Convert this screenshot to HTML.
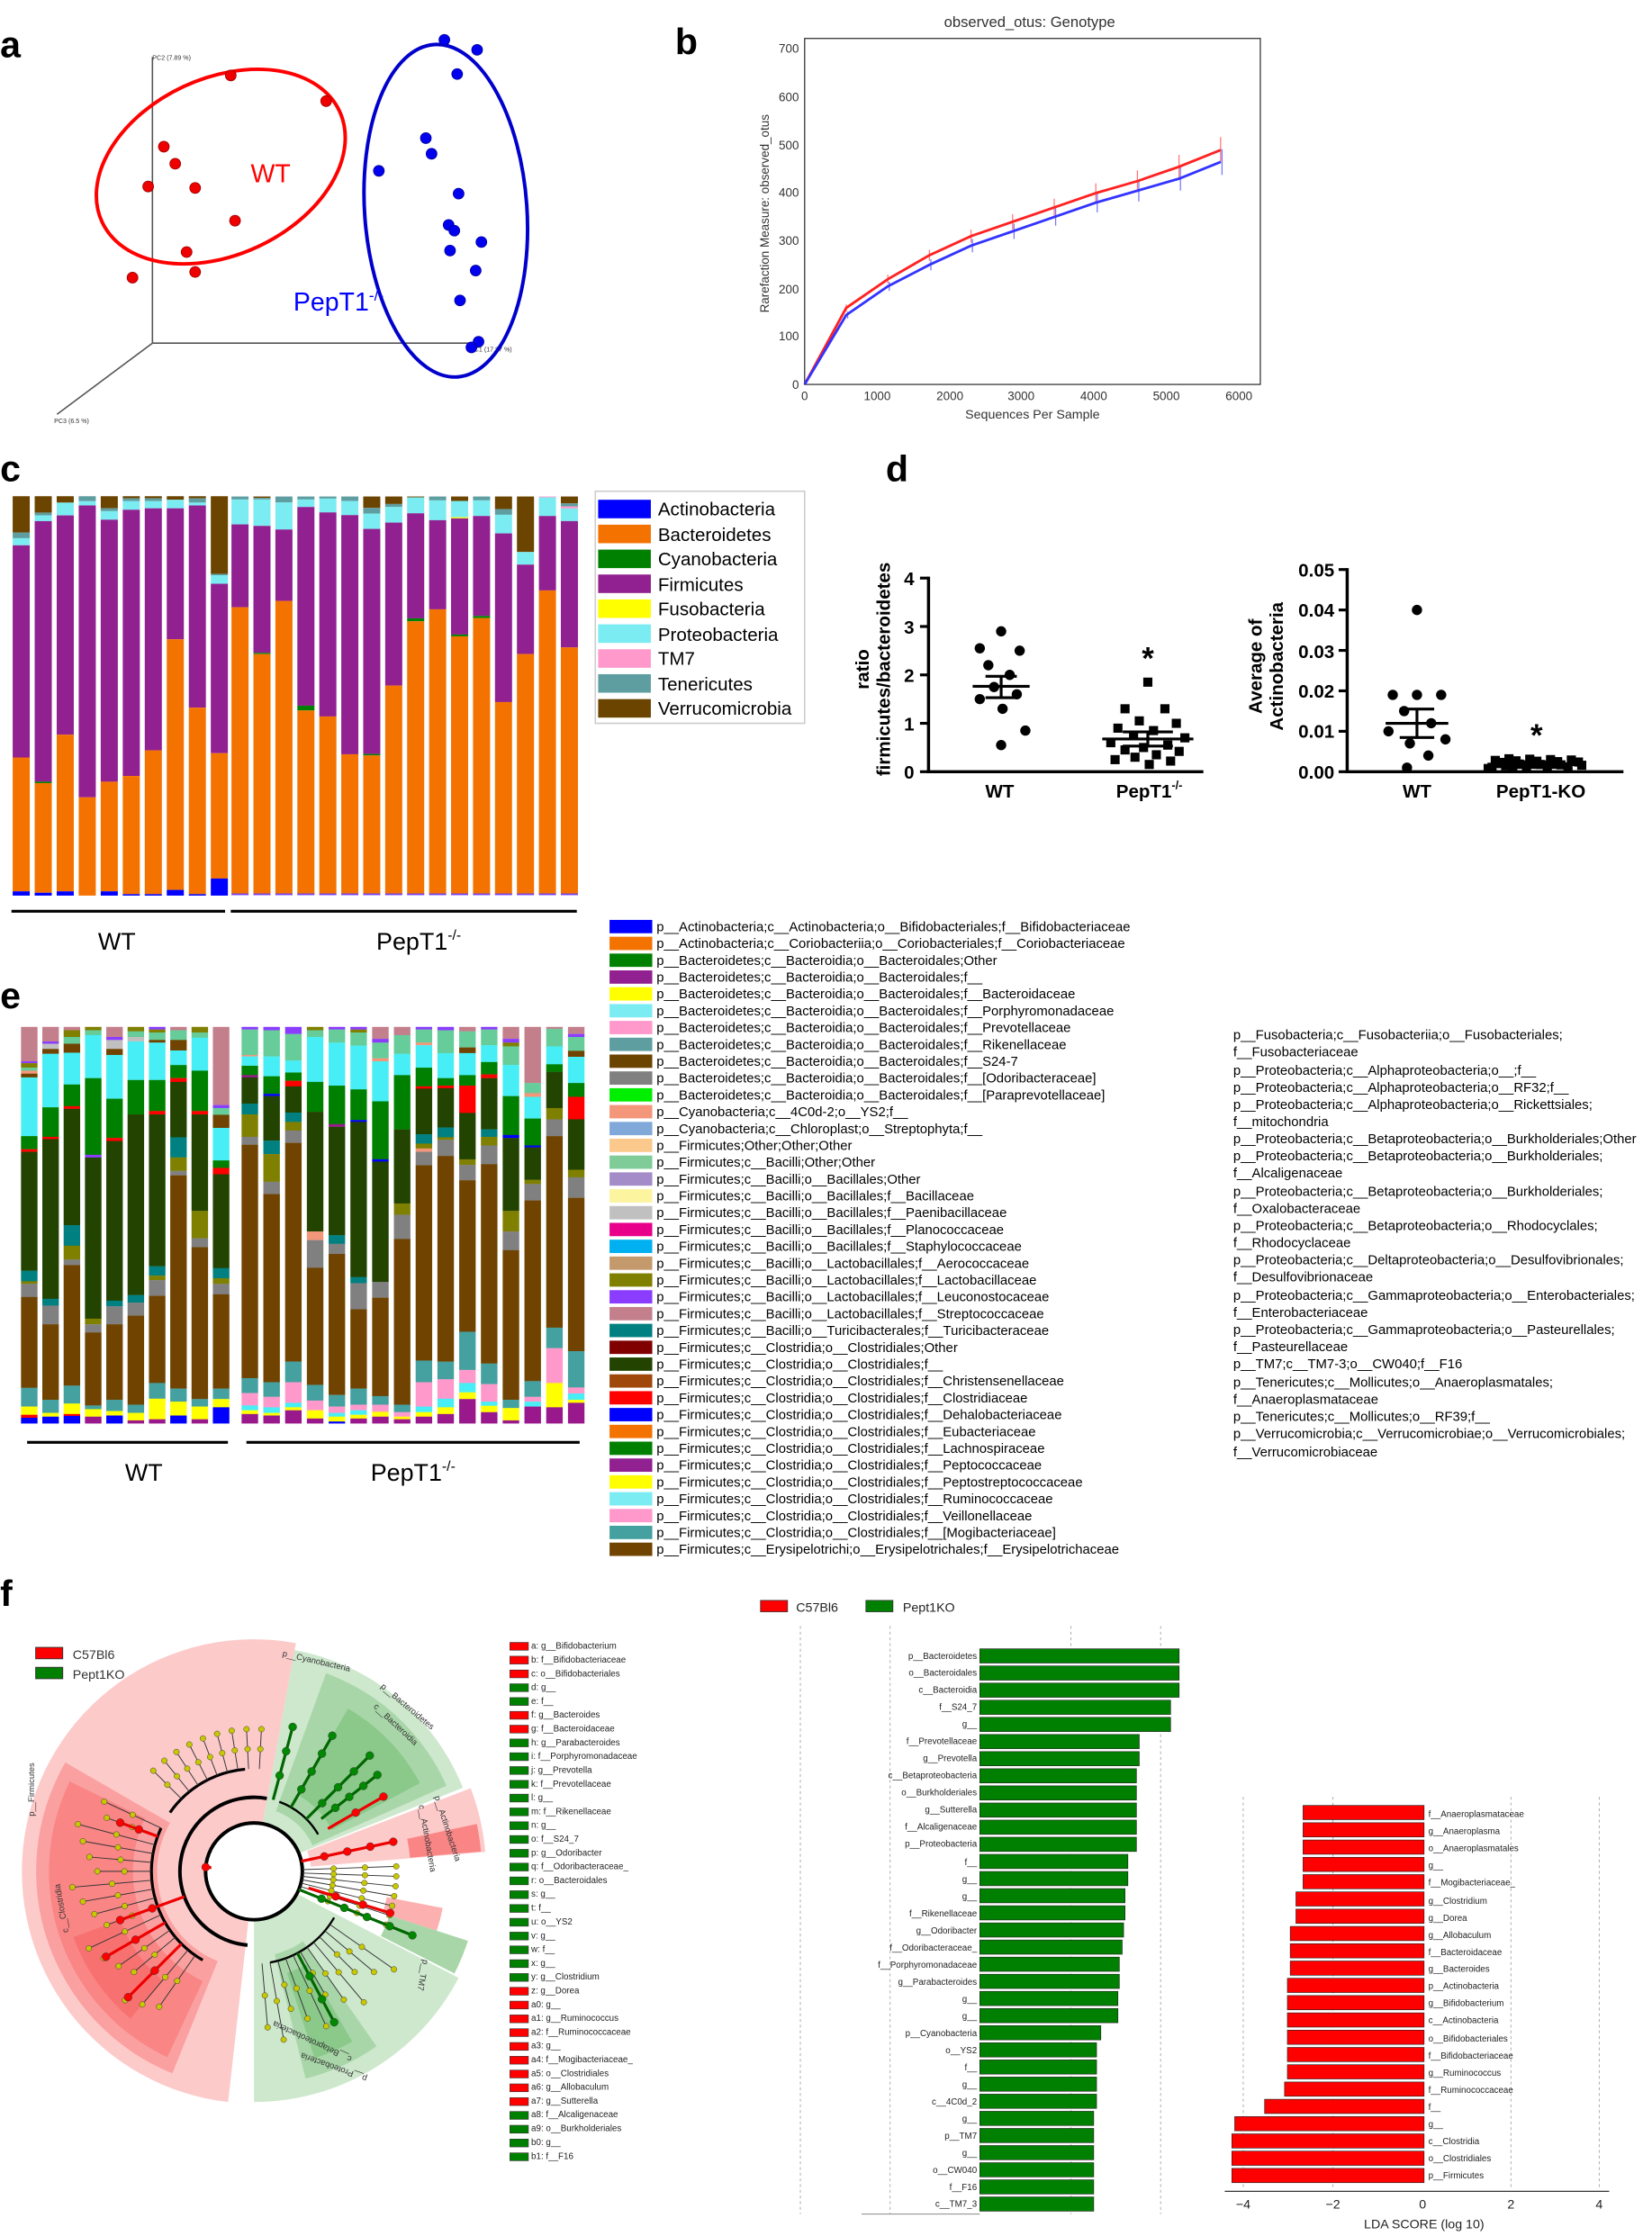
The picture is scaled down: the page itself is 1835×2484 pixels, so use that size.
<!DOCTYPE html>
<html><head><meta charset="utf-8"><style>
html,body{margin:0;padding:0;background:#fff}
svg{display:block}
text{font-family:"Liberation Sans",Arial,sans-serif}
.L{font-size:26px;font-weight:bold}
.t7{font-size:7px;fill:#222}
.e{font-size:9.4px;fill:#000}
</style></head><body>
<svg id="s" xmlns="http://www.w3.org/2000/svg" width="1835" height="2484" viewBox="0 0 1160 1570.4">
<rect width="1160" height="1571" fill="#fff"/>
<text class="L" x="0" y="40">a</text>
<text class="L" x="474" y="38">b</text>
<text class="L" x="0" y="338">c</text>
<text class="L" x="622" y="338">d</text>
<text class="L" x="0" y="708">e</text>
<text class="L" x="0" y="1128">f</text>

<g stroke="#555" stroke-width="1" fill="none">
<line x1="107" y1="40" x2="107" y2="241"/><line x1="107" y1="241" x2="338" y2="241"/><line x1="107" y1="241" x2="40" y2="291"/>
</g>
<text x="107" y="42" font-size="4.5" fill="#333">PC2 (7.89 %)</text>
<text x="330" y="247" font-size="4.5" fill="#333">PC1 (17.97 %)</text>
<text x="38" y="297" font-size="4.5" fill="#333">PC3 (6.5 %)</text>
<ellipse cx="155" cy="117" rx="92" ry="62" transform="rotate(-25 155 117)" fill="none" stroke="#f00" stroke-width="2.5"/>
<ellipse cx="313" cy="148" rx="57" ry="117" transform="rotate(-4 313 148)" fill="none" stroke="#00c" stroke-width="2.5"/>
<text x="176" y="128" font-size="18" fill="#f00">WT</text>
<text x="206" y="218" font-size="18" fill="#00f">PepT1<tspan font-size="11" dy="-7">-/-</tspan></text>
<g id="pa"></g>

<text x="723" y="19" font-size="10.5" fill="#333" text-anchor="middle">observed_otus: Genotype</text>
<rect x="565" y="27" width="320" height="243" fill="none" stroke="#333" stroke-width="0.8"/>
<g font-size="8.5" fill="#333" text-anchor="end">
<text x="561" y="273">0</text><text x="561" y="239">100</text><text x="561" y="206">200</text><text x="561" y="172">300</text><text x="561" y="138">400</text><text x="561" y="105">500</text><text x="561" y="71">600</text><text x="561" y="37">700</text>
</g>
<g font-size="8.5" fill="#333" text-anchor="middle">
<text x="565" y="281">0</text><text x="616" y="281">1000</text><text x="667" y="281">2000</text><text x="717" y="281">3000</text><text x="768" y="281">4000</text><text x="819" y="281">5000</text><text x="870" y="281">6000</text>
</g>
<text x="725" y="294" font-size="9" fill="#333" text-anchor="middle">Sequences Per Sample</text>
<text transform="translate(540 150) rotate(-90)" font-size="8.5" fill="#333" text-anchor="middle">Rarefaction Measure: observed_otus</text>
<g id="pb"></g>

<g id="pc"></g>
<line x1="8" y1="640" x2="158" y2="640" stroke="#000" stroke-width="2"/>
<line x1="162" y1="640" x2="405" y2="640" stroke="#000" stroke-width="2"/>
<text x="82" y="667" font-size="17" text-anchor="middle">WT</text>
<text x="294" y="667" font-size="17" text-anchor="middle">PepT1<tspan font-size="10" dy="-7">-/-</tspan></text>
<rect x="418" y="345" width="147" height="163" fill="none" stroke="#ccc"/>
<g font-size="13">
<rect x="420" y="351" width="37" height="13" fill="#0000ff"/><text x="462" y="362">Actinobacteria</text>
<rect x="420" y="368.5" width="37" height="13" fill="#f47300"/><text x="462" y="380">Bacteroidetes</text>
<rect x="420" y="386" width="37" height="13" fill="#008000"/><text x="462" y="397">Cyanobacteria</text>
<rect x="420" y="403.5" width="37" height="13" fill="#912090"/><text x="462" y="415">Firmicutes</text>
<rect x="420" y="421" width="37" height="13" fill="#ffff00"/><text x="462" y="432">Fusobacteria</text>
<rect x="420" y="438.5" width="37" height="13" fill="#7aecf2"/><text x="462" y="450">Proteobacteria</text>
<rect x="420" y="456" width="37" height="13" fill="#ff99cc"/><text x="462" y="467">TM7</text>
<rect x="420" y="473.5" width="37" height="13" fill="#5f9ea0"/><text x="462" y="485">Tenericutes</text>
<rect x="420" y="491" width="37" height="13" fill="#6b4400"/><text x="462" y="502">Verrucomicrobia</text>
</g>

<g stroke="#000" stroke-width="2.2" fill="none">
<line x1="652" y1="405" x2="652" y2="543"/><line x1="651" y1="542" x2="845" y2="542"/>
<line x1="946" y1="399" x2="946" y2="543"/><line x1="945" y1="542" x2="1140" y2="542"/>
</g>
<g stroke="#000" stroke-width="2">
<line x1="646" y1="406" x2="652" y2="406"/><line x1="646" y1="440" x2="652" y2="440"/><line x1="646" y1="474" x2="652" y2="474"/><line x1="646" y1="508" x2="652" y2="508"/><line x1="646" y1="542" x2="652" y2="542"/>
<line x1="940" y1="400" x2="946" y2="400"/><line x1="940" y1="428.4" x2="946" y2="428.4"/><line x1="940" y1="456.8" x2="946" y2="456.8"/><line x1="940" y1="485.2" x2="946" y2="485.2"/><line x1="940" y1="513.6" x2="946" y2="513.6"/><line x1="940" y1="542" x2="946" y2="542"/>
</g>
<g font-size="13" font-weight="bold" text-anchor="end">
<text x="642" y="411">4</text><text x="642" y="445">3</text><text x="642" y="479">2</text><text x="642" y="513">1</text><text x="642" y="547">0</text>
<text x="937" y="405">0.05</text><text x="937" y="433">0.04</text><text x="937" y="462">0.03</text><text x="937" y="490">0.02</text><text x="937" y="518">0.01</text><text x="937" y="547">0.00</text>
</g>
<g font-size="13" font-weight="bold" text-anchor="middle">
<text transform="translate(610 470) rotate(-90)">ratio</text>
<text transform="translate(625 470) rotate(-90)">firmicutes/bacteroidetes</text>
<text transform="translate(886 468) rotate(-90)">Average of</text>
<text transform="translate(901 468) rotate(-90)">Actinobacteria</text>
<text x="702" y="560">WT</text><text x="807" y="560">PepT1<tspan font-size="8" dy="-6">-/-</tspan></text>
<text x="995" y="560">WT</text><text x="1082" y="560">PepT1-KO</text>
</g>
<text x="806" y="470" font-size="22" font-weight="bold" text-anchor="middle">*</text>
<text x="1079" y="524" font-size="22" font-weight="bold" text-anchor="middle">*</text>
<g id="pd"></g>

<g id="pe"></g>
<line x1="19" y1="1013" x2="160" y2="1013" stroke="#000" stroke-width="2"/>
<line x1="173" y1="1013" x2="407" y2="1013" stroke="#000" stroke-width="2"/>
<text x="101" y="1040" font-size="17" text-anchor="middle">WT</text>
<text x="290" y="1040" font-size="17" text-anchor="middle">PepT1<tspan font-size="10" dy="-7">-/-</tspan></text>
<g transform="translate(0 651) scale(1 0.985) translate(0 -651)">
<g id="el"></g>
<g class="e">
<text x="461" y="654">p__Actinobacteria;c__Actinobacteria;o__Bifidobacteriales;f__Bifidobacteriaceae</text>
<text x="461" y="666">p__Actinobacteria;c__Coriobacteriia;o__Coriobacteriales;f__Coriobacteriaceae</text>
<text x="461" y="678">p__Bacteroidetes;c__Bacteroidia;o__Bacteroidales;Other</text>
<text x="461" y="690">p__Bacteroidetes;c__Bacteroidia;o__Bacteroidales;f__</text>
<text x="461" y="702">p__Bacteroidetes;c__Bacteroidia;o__Bacteroidales;f__Bacteroidaceae</text>
<text x="461" y="714">p__Bacteroidetes;c__Bacteroidia;o__Bacteroidales;f__Porphyromonadaceae</text>
<text x="461" y="726">p__Bacteroidetes;c__Bacteroidia;o__Bacteroidales;f__Prevotellaceae</text>
<text x="461" y="738">p__Bacteroidetes;c__Bacteroidia;o__Bacteroidales;f__Rikenellaceae</text>
<text x="461" y="750">p__Bacteroidetes;c__Bacteroidia;o__Bacteroidales;f__S24-7</text>
<text x="461" y="762">p__Bacteroidetes;c__Bacteroidia;o__Bacteroidales;f__[Odoribacteraceae]</text>
<text x="461" y="774">p__Bacteroidetes;c__Bacteroidia;o__Bacteroidales;f__[Paraprevotellaceae]</text>
<text x="461" y="786">p__Cyanobacteria;c__4C0d-2;o__YS2;f__</text>
<text x="461" y="798">p__Cyanobacteria;c__Chloroplast;o__Streptophyta;f__</text>
<text x="461" y="810">p__Firmicutes;Other;Other;Other</text>
<text x="461" y="822">p__Firmicutes;c__Bacilli;Other;Other</text>
<text x="461" y="834">p__Firmicutes;c__Bacilli;o__Bacillales;Other</text>
<text x="461" y="846">p__Firmicutes;c__Bacilli;o__Bacillales;f__Bacillaceae</text>
<text x="461" y="858">p__Firmicutes;c__Bacilli;o__Bacillales;f__Paenibacillaceae</text>
<text x="461" y="870">p__Firmicutes;c__Bacilli;o__Bacillales;f__Planococcaceae</text>
<text x="461" y="882">p__Firmicutes;c__Bacilli;o__Bacillales;f__Staphylococcaceae</text>
<text x="461" y="894">p__Firmicutes;c__Bacilli;o__Lactobacillales;f__Aerococcaceae</text>
<text x="461" y="906">p__Firmicutes;c__Bacilli;o__Lactobacillales;f__Lactobacillaceae</text>
<text x="461" y="918">p__Firmicutes;c__Bacilli;o__Lactobacillales;f__Leuconostocaceae</text>
<text x="461" y="930">p__Firmicutes;c__Bacilli;o__Lactobacillales;f__Streptococcaceae</text>
<text x="461" y="942">p__Firmicutes;c__Bacilli;o__Turicibacterales;f__Turicibacteraceae</text>
<text x="461" y="954">p__Firmicutes;c__Clostridia;o__Clostridiales;Other</text>
<text x="461" y="966">p__Firmicutes;c__Clostridia;o__Clostridiales;f__</text>
<text x="461" y="978">p__Firmicutes;c__Clostridia;o__Clostridiales;f__Christensenellaceae</text>
<text x="461" y="990">p__Firmicutes;c__Clostridia;o__Clostridiales;f__Clostridiaceae</text>
<text x="461" y="1002">p__Firmicutes;c__Clostridia;o__Clostridiales;f__Dehalobacteriaceae</text>
<text x="461" y="1014">p__Firmicutes;c__Clostridia;o__Clostridiales;f__Eubacteriaceae</text>
<text x="461" y="1026">p__Firmicutes;c__Clostridia;o__Clostridiales;f__Lachnospiraceae</text>
<text x="461" y="1038">p__Firmicutes;c__Clostridia;o__Clostridiales;f__Peptococcaceae</text>
<text x="461" y="1050">p__Firmicutes;c__Clostridia;o__Clostridiales;f__Peptostreptococcaceae</text>
<text x="461" y="1062">p__Firmicutes;c__Clostridia;o__Clostridiales;f__Ruminococcaceae</text>
<text x="461" y="1074">p__Firmicutes;c__Clostridia;o__Clostridiales;f__Veillonellaceae</text>
<text x="461" y="1086">p__Firmicutes;c__Clostridia;o__Clostridiales;f__[Mogibacteriaceae]</text>
<text x="461" y="1098">p__Firmicutes;c__Erysipelotrichi;o__Erysipelotrichales;f__Erysipelotrichaceae</text>
</g>
</g>
<g class="e">
<text x="866" y="730">p__Fusobacteria;c__Fusobacteriia;o__Fusobacteriales;</text>
<text x="866" y="742">f__Fusobacteriaceae</text>
<text x="866" y="755">p__Proteobacteria;c__Alphaproteobacteria;o__;f__</text>
<text x="866" y="767">p__Proteobacteria;c__Alphaproteobacteria;o__RF32;f__</text>
<text x="866" y="779">p__Proteobacteria;c__Alphaproteobacteria;o__Rickettsiales;</text>
<text x="866" y="791">f__mitochondria</text>
<text x="866" y="803">p__Proteobacteria;c__Betaproteobacteria;o__Burkholderiales;Other</text>
<text x="866" y="815">p__Proteobacteria;c__Betaproteobacteria;o__Burkholderiales;</text>
<text x="866" y="827">f__Alcaligenaceae</text>
<text x="866" y="840">p__Proteobacteria;c__Betaproteobacteria;o__Burkholderiales;</text>
<text x="866" y="852">f__Oxalobacteraceae</text>
<text x="866" y="864">p__Proteobacteria;c__Betaproteobacteria;o__Rhodocyclales;</text>
<text x="866" y="876">f__Rhodocyclaceae</text>
<text x="866" y="888">p__Proteobacteria;c__Deltaproteobacteria;o__Desulfovibrionales;</text>
<text x="866" y="900">f__Desulfovibrionaceae</text>
<text x="866" y="913">p__Proteobacteria;c__Gammaproteobacteria;o__Enterobacteriales;</text>
<text x="866" y="925">f__Enterobacteriaceae</text>
<text x="866" y="937">p__Proteobacteria;c__Gammaproteobacteria;o__Pasteurellales;</text>
<text x="866" y="949">f__Pasteurellaceae</text>
<text x="866" y="961">p__TM7;c__TM7-3;o__CW040;f__F16</text>
<text x="866" y="974">p__Tenericutes;c__Mollicutes;o__Anaeroplasmatales;</text>
<text x="866" y="986">f__Anaeroplasmataceae</text>
<text x="866" y="998">p__Tenericutes;c__Mollicutes;o__RF39;f__</text>
<text x="866" y="1010">p__Verrucomicrobia;c__Verrucomicrobiae;o__Verrucomicrobiales;</text>
<text x="866" y="1023">f__Verrucomicrobiaceae</text>
</g>

<g id="clad"></g>
<rect x="25" y="1157" width="19" height="8" fill="#f00" stroke="#333" stroke-width="0.6"/><text x="51" y="1165" font-size="9" fill="#333">C57Bl6</text>
<rect x="25" y="1171" width="19" height="8" fill="#008000" stroke="#333" stroke-width="0.6"/><text x="51" y="1179" font-size="9" fill="#333">Pept1KO</text>
<g font-size="6" fill="#333">
<text transform="translate(24 1238) rotate(-90)" text-anchor="end">p__Firmicutes</text>
<text transform="translate(45 1340) rotate(-100)" text-anchor="middle">c__Clostridia</text>
<text transform="translate(198 1163) rotate(13)">p__Cyanobacteria</text>
<text transform="translate(267 1185) rotate(40)">p__Bacteroidetes</text>
<text transform="translate(262 1199) rotate(43)">c__Bacteroidia</text>
<text transform="translate(305 1262) rotate(72)">p__Actinobacteria</text>
<text transform="translate(294 1268) rotate(80)">c__Actinobacteria</text>
<text transform="translate(235 1450) rotate(-160)" text-anchor="middle">p__Proteobacteria</text>
<text transform="translate(220 1432) rotate(-155)" text-anchor="middle">c__Betaproteobacteria</text>
<text transform="translate(297 1376) rotate(100)">p__TM7</text>
</g>
<g id="flist"></g>
<g font-size="6.2" fill="#222">
<text x="373" y="1158">a: g__Bifidobacterium</text><text x="373" y="1167.7">b: f__Bifidobacteriaceae</text><text x="373" y="1177.4">c: o__Bifidobacteriales</text><text x="373" y="1187">d: g__</text><text x="373" y="1196.7">e: f__</text><text x="373" y="1206.4">f: g__Bacteroides</text><text x="373" y="1216.1">g: f__Bacteroidaceae</text><text x="373" y="1225.8">h: g__Parabacteroides</text><text x="373" y="1235.4">i: f__Porphyromonadaceae</text><text x="373" y="1245.1">j: g__Prevotella</text><text x="373" y="1254.8">k: f__Prevotellaceae</text><text x="373" y="1264.5">l: g__</text><text x="373" y="1274.2">m: f__Rikenellaceae</text><text x="373" y="1283.8">n: g__</text><text x="373" y="1293.5">o: f__S24_7</text><text x="373" y="1303.2">p: g__Odoribacter</text><text x="373" y="1312.9">q: f__Odoribacteraceae_</text><text x="373" y="1322.6">r: o__Bacteroidales</text><text x="373" y="1332.2">s: g__</text><text x="373" y="1341.9">t: f__</text><text x="373" y="1351.6">u: o__YS2</text><text x="373" y="1361.3">v: g__</text><text x="373" y="1371">w: f__</text><text x="373" y="1380.6">x: g__</text><text x="373" y="1390.3">y: g__Clostridium</text><text x="373" y="1400">z: g__Dorea</text><text x="373" y="1409.7">a0: g__</text><text x="373" y="1419.4">a1: g__Ruminococcus</text><text x="373" y="1429">a2: f__Ruminococcaceae</text><text x="373" y="1438.7">a3: g__</text><text x="373" y="1448.4">a4: f__Mogibacteriaceae_</text><text x="373" y="1458.1">a5: o__Clostridiales</text><text x="373" y="1467.8">a6: g__Allobaculum</text><text x="373" y="1477.4">a7: g__Sutterella</text><text x="373" y="1487.1">a8: f__Alcaligenaceae</text><text x="373" y="1496.8">a9: o__Burkholderiales</text><text x="373" y="1506.5">b0: g__</text><text x="373" y="1516.2">b1: f__F16</text>
</g>

<rect x="534" y="1124" width="19" height="8" fill="#f00" stroke="#333" stroke-width="0.5"/><text x="559" y="1132" font-size="9" fill="#222">C57Bl6</text>
<rect x="608" y="1124" width="19" height="8" fill="#008000" stroke="#333" stroke-width="0.5"/><text x="634" y="1132" font-size="9" fill="#222">Pept1KO</text>
<g stroke="#aaa" stroke-width="0.6" stroke-dasharray="2,2">
<line x1="562" y1="1142" x2="562" y2="1555"/><line x1="625" y1="1142" x2="625" y2="1555"/><line x1="752" y1="1142" x2="752" y2="1555"/><line x1="815" y1="1142" x2="815" y2="1555"/>
<line x1="873" y1="1262" x2="873" y2="1538"/><line x1="936" y1="1262" x2="936" y2="1538"/><line x1="1061" y1="1262" x2="1061" y2="1538"/><line x1="1123" y1="1262" x2="1123" y2="1538"/>
</g>
<line x1="605" y1="1555" x2="688" y2="1555" stroke="#888" stroke-width="0.6"/>
<line x1="860" y1="1539" x2="1130" y2="1539" stroke="#333" stroke-width="0.8"/>
<g id="lda"></g>
<g font-size="6.2" fill="#222" text-anchor="end">
<text x="686" y="1165">p__Bacteroidetes</text><text x="686" y="1177">o__Bacteroidales</text><text x="686" y="1189">c__Bacteroidia</text><text x="686" y="1201">f__S24_7</text><text x="686" y="1213">g__</text><text x="686" y="1225">f__Prevotellaceae</text><text x="686" y="1237">g__Prevotella</text><text x="686" y="1249">c__Betaproteobacteria</text><text x="686" y="1261">o__Burkholderiales</text><text x="686" y="1273">g__Sutterella</text><text x="686" y="1285">f__Alcaligenaceae</text><text x="686" y="1297">p__Proteobacteria</text><text x="686" y="1310">f__</text><text x="686" y="1322">g__</text><text x="686" y="1334">g__</text><text x="686" y="1346">f__Rikenellaceae</text><text x="686" y="1358">g__Odoribacter</text><text x="686" y="1370">f__Odoribacteraceae_</text><text x="686" y="1382">f__Porphyromonadaceae</text><text x="686" y="1394">g__Parabacteroides</text><text x="686" y="1406">g__</text><text x="686" y="1418">g__</text><text x="686" y="1430">p__Cyanobacteria</text><text x="686" y="1442">o__YS2</text><text x="686" y="1454">f__</text><text x="686" y="1466">g__</text><text x="686" y="1478">c__4C0d_2</text><text x="686" y="1490">g__</text><text x="686" y="1502">p__TM7</text><text x="686" y="1514">g__</text><text x="686" y="1526">o__CW040</text><text x="686" y="1538">f__F16</text><text x="686" y="1550">c__TM7_3</text>
</g>
<g font-size="6.2" fill="#222">
<text x="1003" y="1276">f__Anaeroplasmataceae</text><text x="1003" y="1288">g__Anaeroplasma</text><text x="1003" y="1300">o__Anaeroplasmatales</text><text x="1003" y="1312">g__</text><text x="1003" y="1324">f__Mogibacteriaceae_</text><text x="1003" y="1337">g__Clostridium</text><text x="1003" y="1349">g__Dorea</text><text x="1003" y="1361">g__Allobaculum</text><text x="1003" y="1373">f__Bacteroidaceae</text><text x="1003" y="1385">g__Bacteroides</text><text x="1003" y="1397">p__Actinobacteria</text><text x="1003" y="1409">g__Bifidobacterium</text><text x="1003" y="1421">c__Actinobacteria</text><text x="1003" y="1434">o__Bifidobacteriales</text><text x="1003" y="1446">f__Bifidobacteriaceae</text><text x="1003" y="1458">g__Ruminococcus</text><text x="1003" y="1470">f__Ruminococcaceae</text><text x="1003" y="1482">f__</text><text x="1003" y="1494">g__</text><text x="1003" y="1506">c__Clostridia</text><text x="1003" y="1518">o__Clostridiales</text><text x="1003" y="1530">p__Firmicutes</text>
</g>
<g font-size="9" fill="#222" text-anchor="middle">
<text x="873" y="1551">−4</text><text x="936" y="1551">−2</text><text x="999" y="1551">0</text><text x="1061" y="1551">2</text><text x="1123" y="1551">4</text>
<text x="1000" y="1565">LDA SCORE (log 10)</text>
</g>
</svg>
<script>
var NS="http://www.w3.org/2000/svg";
function el(p,n,a){var e=document.createElementNS(NS,n);for(var k in a)e.setAttribute(k,a[k]);document.getElementById(p).appendChild(e);return e;}
[[162,53],[229,71],[115,103],[123,115],[104,131],[137,132],[165,155],[131,177],[137,191],[93,195]].forEach(function(p){el("pa","circle",{cx:p[0],cy:p[1],r:3.8,fill:"#e00",stroke:"#900","stroke-width":0.5});});
[[312,28],[335,35],[321,52],[299,97],[303,108],[266,120],[322,136],[315,158],[319,162],[338,170],[316,176],[334,190],[323,211],[336,240],[331,244]].forEach(function(p){el("pa","circle",{cx:p[0],cy:p[1],r:3.8,fill:"#00e",stroke:"#009","stroke-width":0.5});});
var xs=[0,575,1150,1725,2300,2875,3450,4025,4600,5175,5750];
var R=[0,160,220,270,310,340,370,400,425,455,490],B=[0,145,205,250,290,320,350,380,405,430,465];
function pts(v){return xs.map(function(x,i){return (565+x*0.0508)+","+(270-v[i]*0.336);}).join(" ");}
xs.forEach(function(x,i){if(!i)return;var X=565+x*0.0508;var e=5+i*2.2;
 el("pb","line",{x1:X,x2:X,y1:270-(R[i]+e)*0.336,y2:270-(R[i]-e)*0.336,stroke:"#f77","stroke-width":0.8});
 el("pb","line",{x1:X+1,x2:X+1,y1:270-(B[i]+e)*0.336,y2:270-(B[i]-e)*0.336,stroke:"#77f","stroke-width":0.8});});
el("pb","polyline",{points:pts(R),fill:"none",stroke:"#f22","stroke-width":1.8});
el("pb","polyline",{points:pts(B),fill:"none",stroke:"#33f","stroke-width":1.8});
var C={bl:"#0000ff",or:"#f47300",gr:"#008000",pu:"#912090",ye:"#ffff00",cy:"#7aecf2",pk:"#ff99cc",te:"#5f9ea0",br:"#6b4400"};
var WT=[[["br",374],["te",378],["cy",383],["pu",532],["or",626],["bl",629]],
[["br",360],["te",362],["cy",366],["pu",549],["gr",550],["or",627],["bl",629]],
[["br",353],["cy",362],["pu",516],["or",626],["bl",629]],
[["te",352],["cy",355],["pu",560],["or",629]],
[["br",357],["te",359],["cy",365],["pu",549],["or",626],["bl",629]],
[["br",350],["te",352],["cy",358],["pu",545],["or",628],["bl",629]],
[["br",350],["te",352],["cy",357],["pu",527],["or",628],["bl",629]],
[["br",351],["cy",357],["pu",449],["or",625],["bl",629]],
[["br",350],["te",353],["cy",355],["pu",497],["or",628],["bl",629]],
[["br",403],["te",404],["cy",410],["pu",529],["or",617],["bl",629]]];
WT.forEach(function(b,i){var x=8.85+15.46*i,y=348.5;b.forEach(function(s){el("pc","rect",{x:x,y:y,width:12,height:s[1]-y,fill:C[s[0]]});y=s[1];});});
var PT=[[["te",45],["cy",128],["pu",404],["or",1362]],
[["br",40],["te",45],["cy",133],["pu",556],["gr",560],["or",1362]],
[["te",55],["cy",145],["pu",383],["or",1362]],
[["te",45],["cy",70],["pu",732],["gr",748],["or",1362]],
[["te",42],["cy",88],["pu",768],["or",1362]],
[["te",50],["cy",97],["pu",894],["or",1362]],
[["br",73],["te",92],["cy",143],["pu",893],["gr",898],["or",1362]],
[["br",60],["te",70],["cy",122],["pu",665],["or",1362]],
[["br",38],["cy",91],["pu",441],["gr",451],["or",1362]],
[["te",48],["cy",114],["pu",411],["or",1362]],
[["br",50],["cy",104],["ye",108],["pu",495],["gr",501],["or",1362]],
[["te",48],["cy",100],["pu",433],["gr",440],["or",1362]],
[["br",77],["te",96],["cy",158],["pu",720],["or",1362]],
[["br",220],["cy",262],["pu",560],["or",1362]],
[["pk",38],["cy",100],["pu",348],["or",1362]],
[["br",58],["te",68],["pk",75],["cy",117],["pu",538],["or",1362]]];
function cy4(p){return 348.7+(p-35)/1327*279.7;}
PT.forEach(function(b,i){var x=162.5+15.42*i,y=348.7;b.forEach(function(s){var y2=cy4(s[1]);el("pc","rect",{x:x,y:y,width:12,height:y2-y,fill:C[s[0]]});y=y2;});el("pc","rect",{x:x,y:627.5,width:12,height:1.2,fill:"#7744ee"});});
function dot(x,y,sq){if(sq)el("pd","rect",{x:x-3.2,y:y-3.2,width:6.4,height:6.4,fill:"#000"});else el("pd","circle",{cx:x,cy:y,r:3.6,fill:"#000"});}
var wr=[[703,2.9],[688,2.55],[716,2.5],[694,2.2],[709,2.0],[698,1.75],[714,1.6],[688,1.5],[704,1.3],[720,0.85],[703,0.55]];
wr.forEach(function(p){dot(p[0],542-p[1]*34,false);});
var pr=[[806,1.85],[790,1.3],[818,1.3],[800,1.05],[826,1.0],[785,0.9],[810,0.85],[796,0.75],[832,0.7],[780,0.6],[820,0.55],[803,0.5],[790,0.45],[828,0.42],[812,0.35],[797,0.3],[783,0.25],[822,0.22],[807,0.15]];
pr.forEach(function(p){dot(p[0],542-p[1]*34,true);});
function ebar(x,m,lo,hi,w){el("pd","line",{x1:x-w,x2:x+w,y1:m,y2:m,stroke:"#000","stroke-width":2});[lo,hi].forEach(function(v){el("pd","line",{x1:x-w*0.55,x2:x+w*0.55,y1:v,y2:v,stroke:"#000","stroke-width":2});});el("pd","line",{x1:x,x2:x,y1:lo,y2:hi,stroke:"#000","stroke-width":2});}
ebar(703,482,475,490,20);ebar(806,519,514,524,32);
var wa=[[995,0.040],[978,0.019],[995,0.019],[1012,0.019],[986,0.015],[1005,0.012],[975,0.010],[1015,0.008],[990,0.007],[1003,0.004],[988,0.001]];
wa.forEach(function(p){dot(p[0],542-p[1]*2840,false);});
for(var i=0;i<22;i++){var x=1045+(i*7.3)%68,v=0.0008+((i*37)%25)/10000;dot(x,542-v*2840,true);}
ebar(995,508,498,518,22);ebar(1080,537,535,539,32);
var E={ma:"#c47f8c",vi:"#8b3dff",ol:"#808000",lg:"#66cc99",sa:"#f4967a",br:"#704400",cy:"#48eef5",gr:"#008000",rd:"#ff0000",dg:"#224400",te:"#008080",gy:"#808080",tl:"#45a0a0",ye:"#ffff00",bl:"#0000ff",pu:"#99198c",pk:"#ff99cc",lgy:"#c0c0c0"};
var EW=[
"ma395 vi400 ol412 lg420 sa428 br438 cy595 gr630 rd637 dg955 te983 ol990 gy1025 br1268 tl1318 ye1340 rd1348 bl1363",
"ma342 vi348 lgy362 br375 cy518 gr597 rd603 dg1030 te1048 gy1098 br1300 tl1335 ye1345 bl1363",
"ma312 ol330 lg348 br372 cy457 gr515 rd522 dg833 te888 ol925 gy940 br1262 tl1310 ye1338 rd1343 bl1363",
"ol312 lg325 cy440 gr645 vi652 dg1083 ol1098 gy1120 br1315 tl1325 ye1345 pu1363",
"ma330 vi338 lgy362 br378 cy495 gr600 rd608 dg1035 te1050 gy1098 br1300 tl1330 ye1342 bl1363",
"ol315 lg330 lgy342 cy445 gr537 dg1020 te1040 gy1075 br1313 tl1335 ye1355 pu1363",
"vi310 ol318 lg338 br345 cy445 gr528 rd537 dg943 te968 ol980 gy1022 br1255 tl1297 ye1352 pu1363",
"ma312 lg338 br366 cy405 gr440 rd450 dg598 te652 ol688 gy700 br1270 tl1305 ye1342 bl1363",
"ol318 lg332 cy420 gr528 rd537 dg795 ol868 gy892 br1298 tl1318 ye1352 pu1363",
"ma512 vi520 lg538 br573 cy660 gr680 rd697 dg948 te975 ol990 gy1018 br1270 tl1298 ye1320 bl1363"];
var EP=[
"vi310 lg378 sa382 cy407 gr432 pu438 dg508 te537 ol597 gy618 br1242 tl1282 pk1315 cy1328 ye1338 pu1363",
"vi312 lg382 cy435 gr482 bl488 dg607 te643 ol717 gy750 br1253 tl1292 pk1320 cy1335 ye1342 pu1363",
"vi322 lg393 cy425 gr447 rd462 dg532 te557 ol580 gy613 br1198 tl1253 pk1308 cy1320 ye1328 pu1363",
"ol312 lg330 cy450 gr530 dg850 sa873 gy947 br1260 tl1302 pk1328 ye1350 pu1363",
"vi310 lg345 cy460 gr563 pu570 dg860 te883 gy910 br1287 tl1318 pk1335 cy1345 ye1358 bl1363",
"vi310 ol318 lg353 cy470 gr552 bl557 dg972 te988 gy1058 br1270 tl1313 pk1328 cy1340 ye1350 pu1363",
"ma335 vi345 lg387 sa395 cy502 gr657 bl663 dg985 gy1027 br1290 tl1313 pk1332 ye1345 pu1363",
"ma325 lg375 cy432 gr577 dg775 ol805 gy870 br1313 tl1333 pk1345 ye1352 pu1363",
"vi310 lg345 sa352 cy412 gr462 rd468 dg590 te615 ol628 sa637 gy673 br1195 tl1253 pk1318 cy1333 ye1345 pu1363",
"vi312 lg373 cy440 gr460 rd467 dg572 te598 ol605 gy648 br1198 tl1245 pk1297 cy1320 ye1338 pu1363",
"ma315 lg358 br373 cy432 gr460 rd533 dg657 ol672 gy713 br1118 tl1220 pk1255 cy1280 ye1298 pu1363",
"vi310 lg352 cy397 gr430 rd440 dg577 te597 ol620 gy670 br1203 tl1258 pk1305 cy1316 ye1333 pu1363",
"ma335 vi345 ol355 lg405 cy488 gr592 bl600 dg795 ol850 gy900 br1300 tl1322 ye1355 pu1363",
"ma453 lg480 sa490 cy548 gr620 bl625 dg712 ol723 gy767 br1250 tl1292 pk1305 cy1318 pu1363",
"ma308 lg355 cy403 gr423 dg520 ol550 gy595 br1107 tl1162 pk1255 ye1320 pu1363",
"ma322 vi330 lg367 br383 cy453 gr490 rd550 dg685 ol705 gy760 br1170 tl1267 pk1283 cy1300 ye1308 pu1363"];
function ey(p){return 660+(p-70)*0.2627;}
function ebars(list,x0,pitch){list.forEach(function(s,i){var x=x0+pitch*i,y=ey(303);s.split(" ").forEach(function(t){var m=t.match(/^([a-z]+)(\d+)$/);var y2=ey(+m[2]);el("pe","rect",{x:x,y:y,width:11.6,height:y2-y+0.1,fill:E[m[1]]});y=y2;});});}
ebars(EW,14.7,14.97);ebars(EP,169.6,15.28);
var LC=["#0000ff","#f47300","#008000","#912090","#ffff00","#7aecf2","#ff99cc","#5f9ea0","#6b4400","#808080","#00ee00","#f4967a","#80a8d8","#fbc98c","#80cc99","#a48cc8","#fdf4a0","#c0c0c0","#e8008a","#00b0f0","#c49a6c","#808000","#8b3dff","#c47f8c","#008080","#800000","#224400","#a0480c","#ff0000","#0000ff","#f47300","#008000","#912090","#ffff00","#7aecf2","#ff99cc","#45a0a0","#704400"];
LC.forEach(function(c,i){el("el","rect",{x:428,y:646+i*12,width:30,height:9.5,fill:c});});
var fr="rrrggrrggggggggggggggggggrrrrrrrrrgggg";
for(var i=0;i<38;i++)el("flist","rect",{x:358,y:1153.5+i*9.69,width:13,height:5.5,fill:fr[i]=="r"?"#f00":"#008000",stroke:"#333","stroke-width":0.4});
var ge=[828,828,828,822,822,800,800,798,798,798,798,798,792,792,790,790,789,788,786,786,785,785,773,770,770,770,770,768,768,768,768,768,768];
ge.forEach(function(v,i){el("lda","rect",{x:688,y:1158+i*12.03,width:v-688,height:10,fill:"#008000",stroke:"#222","stroke-width":0.4});});
var re=[915,915,915,915,915,910,910,906,906,906,904,904,904,904,904,904,902,888,867,865,865,865];
re.forEach(function(v,i){el("lda","rect",{x:v,y:1268+i*12.14,width:1000-v,height:10,fill:"#f00",stroke:"#222","stroke-width":0.4});});
var cx=178.3,cy=1314.3;
function P(r,a){a=a*Math.PI/180;return [cx+r*Math.cos(a),cy+r*Math.sin(a)];}
function sec(r0,r1,a0,a1,f,o){var A=P(r1,a0),B=P(r1,a1),C2=P(r0,a1),D=P(r0,a0),l=(a1-a0)>180?1:0;
 el("clad","path",{d:"M"+A+" A"+r1+","+r1+" 0 "+l+" 1 "+B+" L"+C2+" A"+r0+","+r0+" 0 "+l+" 0 "+D+"Z",fill:f,"fill-opacity":o||1});}
sec(34,163,96.4,280.4,"#fdcaca");
sec(68,153,112,210,"#fba0a0");
sec(85,144,115,206,"#f98585");
sec(100,135,130,160,"#f76b6b",0.8);
sec(34,158,-79.6,-21.8,"#cde8cd");
sec(45,148,-70,-24,"#a8d6a8");
sec(62,132,-60,-28,"#8ac98a");
sec(40,163,-21,-4.8,"#fdcaca");
sec(110,160,-12,-5,"#f98585");
sec(95,135,11,18,"#fdb0b0");
sec(100,158,18,27,"#a8d6a8");
sec(34,162,27.5,90,"#cde8cd");
sec(60,150,55,76,"#a8d6a8");
sec(75,138,60,72,"#8ac98a");
el("clad","circle",{cx:cx,cy:cy,r:34,fill:"#fff",stroke:"#000","stroke-width":2.5});
function arc(r,a0,a1,w){var A=P(r,a0),B=P(r,a1);el("clad","path",{d:"M"+A+" A"+r+","+r+" 0 "+((a1-a0)>180?1:0)+" 1 "+B,fill:"none",stroke:"#000","stroke-width":w});}
arc(52,95,280,2.5);arc(72,120,205,2);arc(72,215,265,2);arc(52,-70,-30,1.5);arc(65,30,80,1.5);
function spoke(a,r0,r1,col,n){var A=P(r0,a),B=P(r1,a);el("clad","line",{x1:A[0],y1:A[1],x2:B[0],y2:B[1],stroke:col=="y"?"#333":(col=="r"?"#e00":"#060"),"stroke-width":col=="y"?0.6:2});
 for(var k=1;k<=n;k++){var Q=P(r0+(r1-r0)*k/n,a);el("clad","circle",{cx:Q[0],cy:Q[1],r:col=="y"?2:2.8,fill:col=="y"?"#c8c800":(col=="r"?"#f00":"#080"),stroke:"#333","stroke-width":0.3});}}
for(var a=225;a<=275;a+=6)spoke(a,72,100+(a%3)*8,"y",2);
for(var a=125;a<=205;a+=5)spoke(a,72,110+(a%4)*6,"y",2);
for(var a=-2;a<=22;a+=4)spoke(a,34,100,"y",3);
for(var a=35;a<=88;a+=5)spoke(a,65,100+(a%3)*10,"y",2);
spoke(-12,34,100,"r",4);spoke(17,40,100,"r",3);spoke(22,34,120,"g",5);
spoke(-60,52,110,"g",4);spoke(-45,52,115,"g",4);spoke(-38,60,110,"g",4);spoke(-30,60,105,"r",2);spoke(-75,52,105,"g",3);
spoke(62,65,120,"g",3);spoke(160,52,100,"r",2);spoke(185,30,34,"r",1);spoke(135,72,125,"r",2);spoke(150,72,120,"r",2);spoke(200,72,100,"r",2);
</script>
</body></html>
